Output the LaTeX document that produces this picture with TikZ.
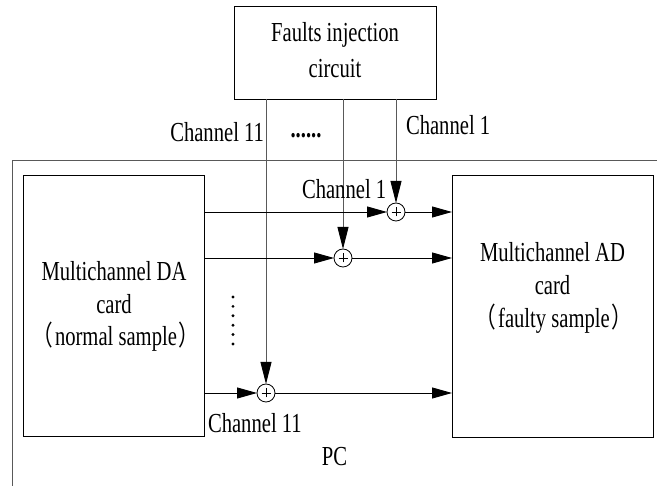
\documentclass[tikz,border=0pt]{standalone}
\usepackage{fontspec}
\setmainfont{Liberation Serif}
\newfontfamily\lab[FakeStretch=0.75]{Liberation Serif}
\newfontfamily\cjk[FakeStretch=0.75]{Noto Sans CJK SC}
\usetikzlibrary{arrows.meta}
\begin{document}
\begin{tikzpicture}[x=1pt,y=-1pt,
  box/.style={draw=black,line width=0.9pt,rectangle,inner sep=0pt,outer sep=0pt},
  txt/.style={inner sep=0pt,outer sep=0pt,font=\lab\fontsize{27.5}{33}\selectfont},
  sum/.style={draw=black,line width=0.8pt,circle,minimum size=18pt,inner sep=0pt,outer sep=0pt,
    path picture={\draw[line width=0.6pt]
      ([xshift=-4.5pt]path picture bounding box.center) -- ([xshift=4.5pt]path picture bounding box.center)
      ([yshift=-4.5pt]path picture bounding box.center) -- ([yshift=4.5pt]path picture bounding box.center);}},
  harr/.style={draw=black,line width=0.9pt,-{Triangle[length=20pt,width=11pt,color=black]}},
  varr/.style={draw=black!65,line width=0.9pt,-{Triangle[length=22pt,width=11pt,color=black]}},
  frame/.style={draw=black!65,line width=0.9pt}]
\useasboundingbox (0,0) rectangle (657,486);

% PC frame
\draw[frame] (12,486) -- (12,160) -- (657,160);

% boxes
\node[box,minimum width=202pt,minimum height=93pt] (fi) at (335,52.5) {};
\node[box,minimum width=181pt,minimum height=261pt] (da) at (113.5,305.5) {};
\node[box,minimum width=201pt,minimum height=262pt] (ad) at (552.5,306) {};

% summing junctions
\node[sum] (c1) at (396,212) {};
\node[sum] (c2) at (343,258) {};
\node[sum] (c3) at (266,393) {};

% vertical fault channels
\draw[varr] (fi.south -| c3) -- (c3);
\draw[varr] (fi.south -| c2) -- (c2);
\draw[varr] (fi.south -| c1) -- (c1);

% horizontal signal paths
\draw[harr] (da.east |- c1) -- (c1);
\draw[harr] (c1) -- (ad.west |- c1);
\draw[harr] (da.east |- c2) -- (c2);
\draw[harr] (c2) -- (ad.west |- c2);
\draw[harr] (da.east |- c3) -- (c3);
\draw[harr] (c3) -- (ad.west |- c3);

% texts
\node[txt,anchor=base] (fi1) at (335,41.7) {Faults injection};
\node[txt,anchor=base] (fi2) at (335,78) {circuit};

\node[txt,anchor=base] (da1) at (114,281) {Multichannel DA};
\node[txt,anchor=base] (da2) at (114,314) {card};
\node[txt,anchor=base] (da3) at (116,346) {{\cjk （}\kern2pt normal sample\kern2pt{\cjk ）}};

\node[txt,anchor=base] (ad1) at (552.5,262) {Multichannel AD};
\node[txt,anchor=base] (ad2) at (552.5,295) {card};
\node[txt,anchor=base] (ad3) at (554,328) {{\cjk （}\kern2pt faulty sample\kern2pt{\cjk ）}};

\node[txt,anchor=base east] (l11t) at (264,141.7) {Channel 11};
\node[txt,anchor=base] (ldt) at (306,138) {\bfseries ......};
\node[txt,anchor=base west] (l1t) at (406,135) {Channel 1};
\node[txt,anchor=base west] (l1m) at (302,199) {Channel 1};
\node[txt,anchor=base west] (l11b) at (208,432.7) {Channel 11};
\node[txt,anchor=base] (pc) at (334.5,466) {PC};

% vertical ellipsis
\foreach \i in {0,...,5} \fill (233,297+9.4*\i) circle (1.6pt);
\end{tikzpicture}
\end{document}
